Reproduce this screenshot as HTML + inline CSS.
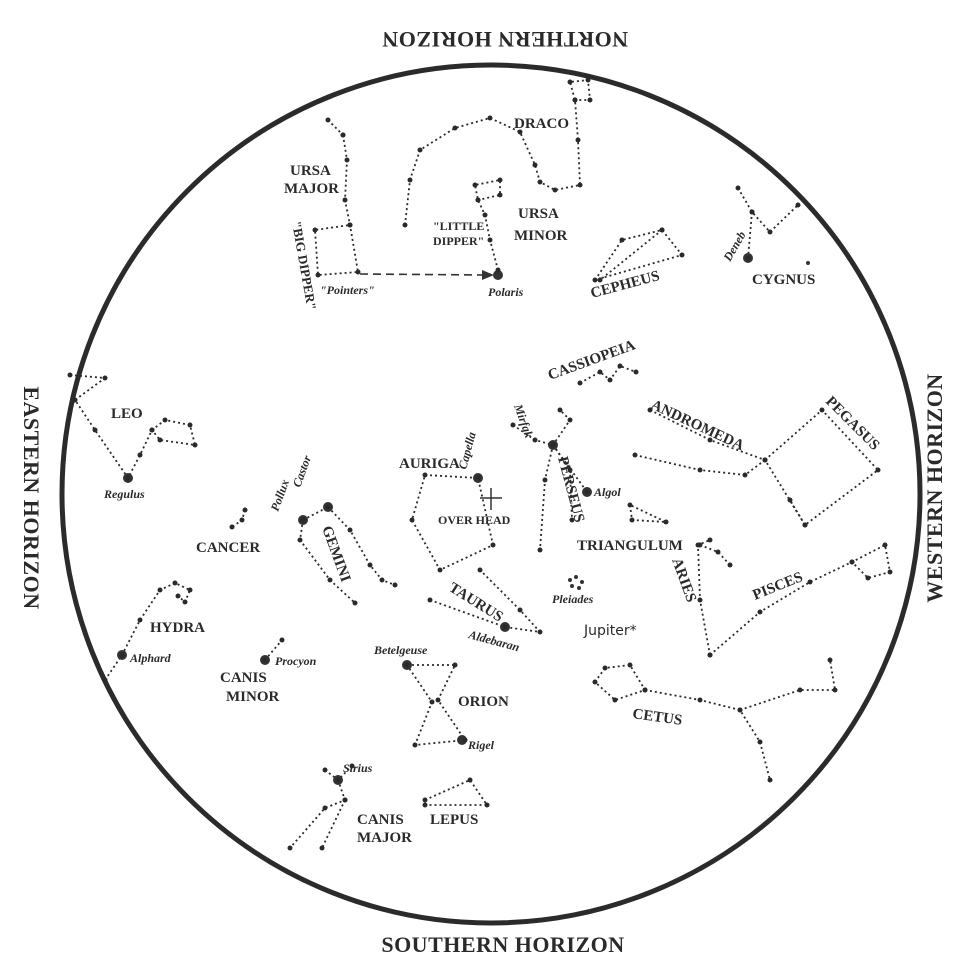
<!DOCTYPE html>
<html><head><meta charset="utf-8"><style>
html,body{margin:0;padding:0;background:#fff}
svg{display:block}
text{font-family:"Liberation Serif",serif;font-weight:bold;fill:#2a2a2a}
.L{font-size:15px}
.s{font-size:12px;font-style:italic}
.h{font-size:22px;letter-spacing:0.5px}
.c{fill:none;stroke:#2a2a2a;stroke-width:1.8;stroke-dasharray:2 3}
</style></head><body>
<svg id="sv" width="978" height="978" viewBox="0 0 978 978" xmlns="http://www.w3.org/2000/svg">
<circle cx="491" cy="494" r="429" fill="none" stroke="#2b2b2b" stroke-width="5"/>
<text class="h" text-anchor="middle" transform="translate(505,32) rotate(180)">NORTHERN HORIZON</text>
<text class="h" text-anchor="middle" x="503" y="952">SOUTHERN HORIZON</text>
<text class="h" text-anchor="middle" transform="translate(24,498) rotate(90)">EASTERN HORIZON</text>
<text class="h" text-anchor="middle" transform="translate(942,488) rotate(-90)">WESTERN HORIZON</text>

<g id="con">
<polyline class="c" points="343,135 347,160 345,200 350,225 358,272 318,275 315,230 350,225"/>
<polyline class="c" points="328,120 343,135"/>
<line x1="360" y1="274" x2="486" y2="275" stroke="#333" stroke-width="1.6" stroke-dasharray="8 5"/>
<polygon points="494,275 482,270 482,280" fill="#333"/>
<circle cx="498" cy="275" r="5" fill="#333"/>
<polyline class="c" points="498,270 490,240 485,215 478,200 475,185 500,180 500,195 478,200"/>
<polyline class="c" points="405,225 410,180 420,150 455,128 490,118 520,132 535,165 540,182 555,190 580,185 578,140 575,100 570,82 588,80 590,100 575,100"/>
<polygon class="c" points="595,280 622,240 662,230 682,255"/>
<polyline class="c" points="662,230 600,280"/>
<polyline class="c" points="738,188 752,212 770,232 798,205"/>
<polyline class="c" points="752,212 748,258"/>
<circle cx="748" cy="258" r="5" fill="#333"/>
<circle cx="808" cy="263" r="2" fill="#333"/>
<polyline class="c" points="580,383 600,372 610,380 620,366 636,372"/>
<polyline class="c" points="635,455 700,470 745,475 765,460"/>
<polyline class="c" points="650,410 710,440 765,460"/>
<polygon class="c" points="765,460 822,410 878,470 805,525"/>
<polyline class="c" points="805,525 790,500"/>
<polyline class="c" points="513,425 535,440 553,445 570,420 560,410"/>
<polyline class="c" points="553,445 545,480 540,550"/>
<polyline class="c" points="553,445 570,470 572,520"/>
<polyline class="c" points="553,445 587,492"/>
<circle cx="553" cy="445" r="5" fill="#333"/>
<circle cx="587" cy="492" r="5" fill="#333"/>
<polygon class="c" points="425,475 478,478 493,545 440,570 412,520"/>
<circle cx="478" cy="478" r="5" fill="#333"/>
<line x1="480" y1="498" x2="502" y2="498" stroke="#333" stroke-width="1.5"/>
<line x1="491" y1="488" x2="491" y2="510" stroke="#333" stroke-width="1.5"/>
<polygon class="c" points="630,505 632,520 666,522"/>
<polyline class="c" points="700,545 718,552 730,565"/>
<polyline class="c" points="710,655 700,600 698,545 710,540"/>
<polyline class="c" points="710,655 760,612 810,582 852,562 885,545 890,572 868,578 852,562"/>
<polygon class="c" points="595,682 605,668 630,665 645,690 615,700"/>
<polyline class="c" points="645,690 700,700 740,710 760,742 770,780"/>
<polyline class="c" points="740,710 800,690 835,690 830,660"/>
<polyline class="c" points="430,600 505,627 540,632 520,610 480,570"/>
<circle cx="505" cy="627" r="5" fill="#333"/>
<g fill="#333"><circle cx="570" cy="580" r="2"/><circle cx="576" cy="577" r="2"/><circle cx="582" cy="582" r="2"/><circle cx="572" cy="586" r="2"/><circle cx="579" cy="588" r="2"/></g>
<polyline class="c" points="303,520 300,540 330,580 355,603"/>
<polyline class="c" points="328,507 350,530 370,565 382,580 395,585"/>
<polyline class="c" points="303,520 328,507"/>
<circle cx="303" cy="520" r="5" fill="#333"/><circle cx="328" cy="507" r="5" fill="#333"/>
<polyline class="c" points="245,510 242,520 232,527"/>
<polyline class="c" points="70,375 105,378 75,400 95,430 128,478 140,455 152,430 165,420 190,425 195,445 160,440 152,430"/>
<circle cx="128" cy="478" r="5" fill="#333"/>
<polyline class="c" points="105,680 122,655 140,620 160,590 175,583 190,590 185,602 178,596"/>
<circle cx="122" cy="655" r="5" fill="#333"/>
<polyline class="c" points="265,660 282,640"/>
<circle cx="265" cy="660" r="5" fill="#333"/>
<polygon class="c" points="407,665 455,665 438,700 465,740 415,745 432,702"/>
<circle cx="407" cy="665" r="5" fill="#333"/><circle cx="462" cy="740" r="5" fill="#333"/>
<polyline class="c" points="325,770 338,780 352,766"/>
<polyline class="c" points="338,780 345,800 325,808 290,848"/>
<polyline class="c" points="345,800 322,848"/>
<circle cx="338" cy="780" r="5" fill="#333"/>
<polygon class="c" points="425,800 470,780 487,805 425,805"/>
</g>
<g id="dots" fill="#2a2a2a"></g>

<g class="L">
<text x="514" y="128">DRACO</text>
<text x="290" y="175">URSA</text><text x="284" y="193">MAJOR</text>
<text class="s" transform="translate(292,222) rotate(80)" style="font-size:13px;font-style:normal">"BIG DIPPER"</text>
<text x="433" y="230" style="font-size:12px">"LITTLE</text><text x="433" y="245" style="font-size:12px">DIPPER"</text>
<text x="518" y="218">URSA</text><text x="514" y="240">MINOR</text>
<text class="s" x="320" y="294">"Pointers"</text>
<text class="s" x="488" y="296">Polaris</text>
<text transform="translate(592,298) rotate(-15)">CEPHEUS</text>
<text class="s" transform="translate(730,262) rotate(-60)">Deneb</text>
<text x="752" y="284">CYGNUS</text>
<text transform="translate(550,380) rotate(-20)">CASSIOPEIA</text>
<text transform="translate(650,408) rotate(25)">ANDROMEDA</text>
<text transform="translate(825,402) rotate(45)">PEGASUS</text>
<text x="111" y="418">LEO</text>
<text class="s" x="104" y="498">Regulus</text>
<text class="s" transform="translate(300,488) rotate(-70)">Castor</text>
<text class="s" transform="translate(278,512) rotate(-70)">Pollux</text>
<text transform="translate(322,528) rotate(70)">GEMINI</text>
<text x="196" y="552">CANCER</text>
<text x="399" y="468">AURIGA</text>
<text class="s" transform="translate(466,470) rotate(-75)">Capella</text>
<text class="s" transform="translate(514,406) rotate(70)">Mirfak</text>
<text transform="translate(558,458) rotate(75)">PERSEUS</text>
<text class="s" x="594" y="496">Algol</text>
<text x="438" y="524" style="font-size:12px">OVER HEAD</text>
<text x="577" y="550">TRIANGULUM</text>
<text transform="translate(672,560) rotate(70)">ARIES</text>
<text transform="translate(755,600) rotate(-22)">PISCES</text>
<text transform="translate(448,590) rotate(32)">TAURUS</text>
<text class="s" x="552" y="603">Pleiades</text>
<text class="s" transform="translate(468,638) rotate(15)">Aldebaran</text>
<text x="584" y="635" style="font-family:'DejaVu Sans',sans-serif;font-weight:normal;font-size:14px">Jupiter*</text>
<text x="150" y="632">HYDRA</text>
<text class="s" x="130" y="662">Alphard</text>
<text x="220" y="682">CANIS</text><text x="226" y="701">MINOR</text>
<text class="s" x="275" y="665">Procyon</text>
<text class="s" x="374" y="654">Betelgeuse</text>
<text x="458" y="706">ORION</text>
<text class="s" x="468" y="749">Rigel</text>
<text transform="translate(632,718) rotate(8)">CETUS</text>
<text class="s" x="343" y="772">Sirius</text>
<text x="357" y="824">CANIS</text><text x="357" y="842">MAJOR</text>
<text x="430" y="824">LEPUS</text>
</g>
</svg>
<script>
(function(){
var ns="http://www.w3.org/2000/svg",d=document.getElementById("dots");
document.querySelectorAll("#con .c").forEach(function(e){
var p=e.getAttribute("points").trim().split(/\s+/);
p.forEach(function(q){var a=q.split(",");var c=document.createElementNS(ns,"circle");
c.setAttribute("cx",a[0]);c.setAttribute("cy",a[1]);c.setAttribute("r","2.5");d.appendChild(c);});
});
})();
</script>
</body></html>
